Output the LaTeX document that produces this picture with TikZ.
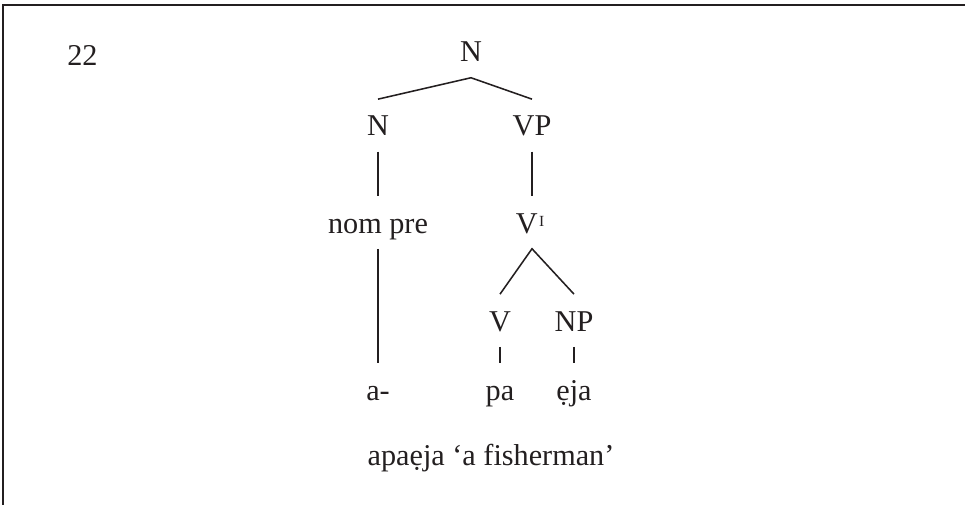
\documentclass[tikz,border=0pt]{standalone}
\usepackage{fontspec}
\setmainfont{Liberation Serif}
\usepackage{tikz}

\definecolor{ink}{HTML}{231F20}

% small raised I for the bar level
\newcommand{\barI}{\raisebox{4.3pt}{\fontsize{11}{11}\selectfont I}}

\tikzset{
    lbl/.style={inner xsep=0pt, inner ysep=6pt, text height=20pt, text depth=5pt,
                anchor=base, text=ink, font=\fontsize{21.5}{26}\selectfont},
    branch/.style={draw=ink, line width=1.1pt}
}

\begin{document}
\begin{tikzpicture}[x=0.025cm, y=-0.025cm]

        \useasboundingbox (0,0) rectangle (965,505);

        % frame, open at the bottom and on the right
        \draw[ink, line width=1.4pt] (3,505) -- (3,5) -- (965,5);

        \node[lbl, anchor=base west] (num) at (67,66) {22};

        % the tree
        \node[lbl] (root) at (471,62) {N};
        \node[lbl] (nleft) at (378,136) {N};
        \node[lbl] (vp) at (532,136) {VP};
        \node[lbl] (nompre) at (378,233) {nom pre};
        \node[lbl] (vbar) at (530,233) {V\kern1pt\barI};
        \node[lbl] (verb) at (500,331) {V};
        \node[lbl] (np) at (574,331) {NP};

        % morphemes
        \node[lbl] (pre) at (378,400) {a-};
        \node[lbl] (pa) at (500,400) {pa};
        \node[lbl] (eja) at (574,400) {ẹja};

        \node[lbl] (gloss) at (491,465) {apaẹja ‘a fisherman’};

        \draw[branch] (nleft.north) -- (root.south) -- (vp.north);
        \draw[branch] (nleft) -- (nompre);
        \draw[branch] (vp) -- (vp |- vbar.north);
        \draw[branch] (verb.north) -- (vp |- vbar.south) -- (np.north);
        \draw[branch] (nompre) -- (pre);
        \draw[branch] (verb) -- (pa);
        \draw[branch] (np) -- (eja);

\end{tikzpicture}
\end{document}
